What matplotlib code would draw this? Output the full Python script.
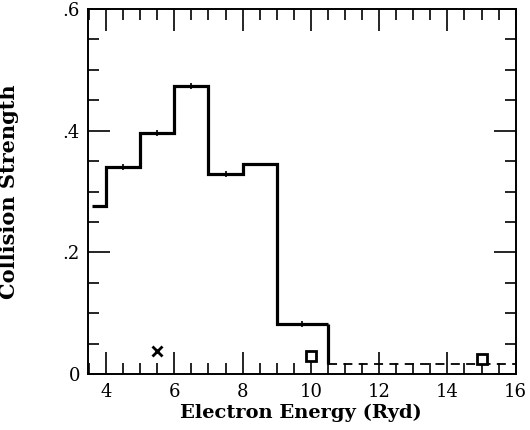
import matplotlib
matplotlib.use("Agg")
import matplotlib.pyplot as plt
import numpy as np
from matplotlib.ticker import FixedLocator, FixedFormatter, MultipleLocator

# ---- data ----
bin_edges = [3.6, 4.0, 5.0, 6.0, 7.0, 8.0, 9.0, 10.5]
bin_values = [0.277, 0.341, 0.397, 0.473, 0.329, 0.345, 0.083]
inner_marks_x = [4.5, 5.5, 6.5, 7.5, 9.75]
tail_value = 0.016
tail_end = 16.0
cross_x = [5.5]
cross_y = [0.038]
square_x = [10.0, 15.0]
square_y = [0.030, 0.024]
xticks = [4, 6, 8, 10, 12, 14, 16]
xtick_labels = ["4", "6", "8", "10", "12", "14", "16"]
yticks = [0.0, 0.2, 0.4, 0.6]
ytick_labels = ["0", ".2", ".4", ".6"]

plt.rcParams['font.family'] = ['DejaVu Serif']

fig = plt.figure(figsize=(5.3, 4.3), dpi=100)
ax = fig.add_axes([0.1666, 0.1302, 0.973 - 0.1666, 0.979 - 0.1302])

lw = 2.3
ax.stairs(bin_values, bin_edges, baseline=None, color='black', linewidth=lw)
# drop to the tail
ax.plot([bin_edges[-1], bin_edges[-1]], [bin_values[-1], tail_value],
        color='black', linewidth=lw, solid_capstyle='butt')
ax.plot([bin_edges[-1], tail_end], [tail_value, tail_value],
        color='black', linewidth=1.3, linestyle=(0, (5, 3.5)))

# small marks along step tops
mark_y = [bin_values[int(np.searchsorted(bin_edges, mx)) - 1] for mx in inner_marks_x]
ax.plot(inner_marks_x, mark_y, linestyle='none', marker='|', markersize=5,
        markeredgewidth=1.2, color='black')

ax.plot(cross_x, cross_y, linestyle='none', marker='x', markersize=7,
        markeredgewidth=2.0, color='black')
ax.plot(square_x, square_y, linestyle='none', marker='s', markersize=6.5,
        markeredgewidth=2.0, markerfacecolor='white', color='black')

ax.set_xlim(3.48, 16.0)
ax.set_ylim(0, 0.6)
ax.xaxis.set_major_locator(FixedLocator(xticks))
ax.xaxis.set_major_formatter(FixedFormatter(xtick_labels))
ax.xaxis.set_minor_locator(MultipleLocator(0.5))
ax.yaxis.set_major_locator(FixedLocator(yticks))
ax.yaxis.set_major_formatter(FixedFormatter(ytick_labels))
ax.yaxis.set_minor_locator(MultipleLocator(0.05))

ax.tick_params(which='both', direction='in', top=True, right=True, color='black')
ax.tick_params(which='major', length=16, width=1.2, labelsize=13)
ax.tick_params(which='minor', length=8, width=1.2)
ax.tick_params(axis='x', which='major', pad=6.5)
ax.tick_params(axis='y', which='major', pad=6)
for s in ax.spines.values():
    s.set_linewidth(1.4)

ax.set_xlabel('Electron Energy (Ryd)', fontsize=14, fontweight='bold', va='baseline')
ax.xaxis.set_label_coords(0.497, -0.1205)
ax.set_ylabel('Collision Strength', fontsize=15, fontweight='bold', va='center')
ax.yaxis.set_label_coords(-0.186, 0.5)

fig.savefig('out.png', dpi=100)
